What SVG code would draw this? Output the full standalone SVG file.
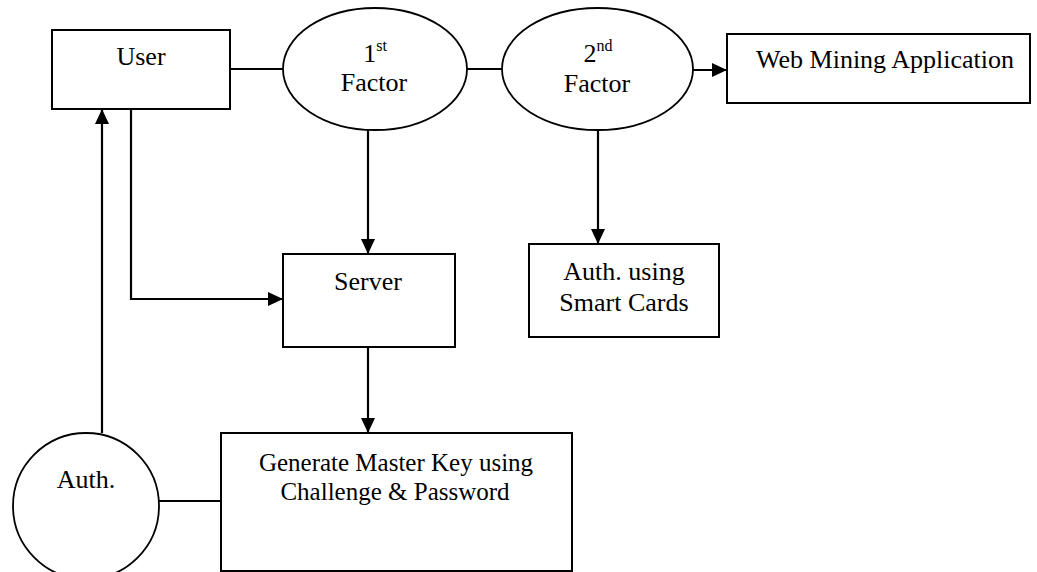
<svg xmlns="http://www.w3.org/2000/svg" width="1037" height="572" viewBox="0 0 1037 572">
  <style>
    .box { fill: #ffffff; stroke: #000000; stroke-width: 2; }
    .oval { fill: #ffffff; stroke: #000000; stroke-width: 1.8; }
    .wire { fill: none; stroke: #000000; stroke-width: 2.2; }
    .label { font-family: "Liberation Serif", "Times New Roman", serif; font-size: 26px; fill: #000000; text-anchor: middle; }
    .small { font-size: 25px; }
    .sup { font-size: 16px; }
  </style>
  <defs>
    <marker id="arrow" markerUnits="userSpaceOnUse" markerWidth="15" markerHeight="14" refX="15" refY="7" orient="auto">
      <path d="M0,0 L15,7 L0,14 Z" fill="#000000"/>
    </marker>
  </defs>

  <rect width="1037" height="572" fill="#ffffff"/>

  <!-- connectors -->
  <g id="connectors">
    <line class="wire" x1="230" y1="69" x2="283" y2="69"/>
    <line class="wire" x1="467" y1="69" x2="502" y2="69"/>
    <line class="wire" x1="693" y1="70" x2="727" y2="70" marker-end="url(#arrow)"/>
    <line class="wire" x1="368" y1="130" x2="368" y2="254" marker-end="url(#arrow)"/>
    <line class="wire" x1="598" y1="130" x2="598" y2="244" marker-end="url(#arrow)"/>
    <polyline class="wire" points="131,109 131,299 283,299" marker-end="url(#arrow)"/>
    <line class="wire" x1="368" y1="347" x2="368" y2="433" marker-end="url(#arrow)"/>
    <line class="wire" x1="102" y1="433" x2="102" y2="109" marker-end="url(#arrow)"/>
    <line class="wire" x1="159" y1="501" x2="221" y2="501"/>
  </g>

  <g id="user">
    <rect class="box" x="52" y="30" width="178" height="79"/>
    <text class="label" x="141" y="65">User</text>
  </g>

  <g id="first-factor">
    <ellipse class="oval" cx="375" cy="69" rx="92" ry="61"/>
    <text class="label" x="375" y="62">1<tspan class="sup" dy="-11">st</tspan></text>
    <text class="label" x="374" y="91">Factor</text>
  </g>

  <g id="second-factor">
    <ellipse class="oval" cx="597.5" cy="69" rx="95.5" ry="61"/>
    <text class="label" x="598" y="62">2<tspan class="sup" dy="-11">nd</tspan></text>
    <text class="label" x="597" y="92">Factor</text>
  </g>

  <g id="web-mining">
    <rect class="box" x="727" y="34" width="303" height="69"/>
    <text class="label" x="885" y="68">Web Mining Application</text>
  </g>

  <g id="server">
    <rect class="box" x="283" y="254" width="172" height="93"/>
    <text class="label" x="368" y="290">Server</text>
  </g>

  <g id="smart-cards">
    <rect class="box" x="529" y="244" width="190" height="93"/>
    <text class="label" x="624" y="280">Auth. using</text>
    <text class="label" x="624" y="311">Smart Cards</text>
  </g>

  <g id="master-key">
    <rect class="box" x="221" y="433" width="351" height="138"/>
    <text class="label small" x="396" y="471">Generate Master Key using</text>
    <text class="label small" x="395" y="500">Challenge &amp; Password</text>
  </g>

  <g id="auth">
    <circle class="oval" cx="86" cy="506" r="73"/>
    <text class="label" x="86" y="488">Auth.</text>
  </g>
</svg>
